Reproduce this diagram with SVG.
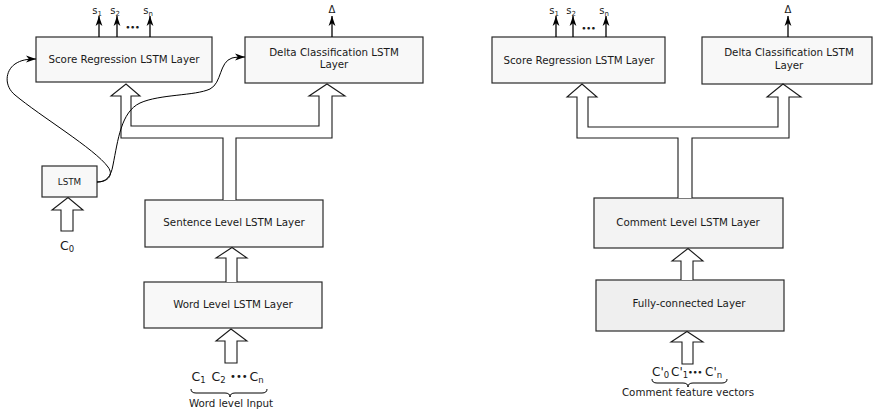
<svg xmlns="http://www.w3.org/2000/svg" width="873" height="411" viewBox="0 0 873 411">
<defs>
<marker id="ah" markerUnits="userSpaceOnUse" markerWidth="10" markerHeight="8" refX="10" refY="4" orient="auto">
<path d="M0,0.6 L10,4 L0,7.4 L2.8,4 z" fill="#000"/>
</marker>
<style>
text{font-family:"DejaVu Sans","Liberation Sans",sans-serif;fill:#1a1a1a}
.box{stroke:#2a2a2a;stroke-width:1.2}
.lb{fill:#f8f8f8}
.rb{fill:#f3f3f3}
.rb2{fill:#efefef}
.t{font-size:10.3px;text-anchor:middle}
.hol{fill:#fff;stroke:#1a1a1a;stroke-width:1.1;stroke-linejoin:miter}
.out{fill:none;stroke:#000;stroke-width:1.3}
.cur{fill:none;stroke:#000;stroke-width:1}
.s{font-size:10px;text-anchor:middle}
.dots{font-size:7.5px;font-weight:bold}
.big{font-size:12.5px}
.cp{font-size:12px}
</style>
</defs>

<g id="left-score">
<rect class="box lb" x="36" y="37" width="176" height="45"/>
<text class="t" x="124" y="63">Score Regression LSTM Layer</text>
</g>
<g id="left-delta">
<rect class="box lb" x="245" y="37" width="178" height="46"/>
<text class="t" x="334" y="55.5">Delta Classification LSTM</text>
<text class="t" x="334" y="68">Layer</text>
</g>
<g id="left-lstm">
<rect class="box lb" x="42" y="166" width="55" height="31"/>
<text x="69.5" y="185" style="font-size:8.8px;text-anchor:middle">LSTM</text>
</g>
<g id="left-sentence">
<rect class="box lb" x="145" y="200" width="178" height="47"/>
<text class="t" x="234" y="225.5">Sentence Level LSTM Layer</text>
</g>
<g id="left-word">
<rect class="box lb" x="144" y="282" width="178" height="46"/>
<text class="t" x="233" y="308">Word Level LSTM Layer</text>
</g>

<g id="right-score">
<rect class="box lb" x="492" y="37" width="173" height="46"/>
<text class="t" x="579" y="64">Score Regression LSTM Layer</text>
</g>
<g id="right-delta">
<rect class="box lb" x="702" y="37" width="170" height="47"/>
<text class="t" x="789" y="56">Delta Classification LSTM</text>
<text class="t" x="789" y="68.5">Layer</text>
</g>
<g id="right-comment">
<rect class="box rb" x="594" y="198" width="189" height="50"/>
<text class="t" x="688" y="226">Comment Level LSTM Layer</text>
</g>
<g id="right-fc">
<rect class="box rb2" x="596" y="280" width="188" height="51"/>
<text class="t" x="689" y="307">Fully-connected Layer</text>
</g>

<g id="connectors">
<path class="hol" d="M223,200 L223,138 L121,138 L121,96 L111,96 L126,84 L140,96 L131,96 L131,126 L319,126 L319,96 L309,96 L327,84 L345,96 L332,96 L332,138 L236,138 L236,200"/>
<path class="hol" d="M226,282 L226,258 L216,258 L232,247.5 L247,258 L237,258 L237,282"/>
<path class="hol" d="M225,363 L225,341 L216,341 L231,329 L247,341 L237,341 L237,363 Z"/>
<path class="hol" d="M61,231 L61,210 L52,210 L68,197.5 L83,210 L73,210 L73,231 Z"/>
<path class="hol" d="M678,198 L678,138 L577,138 L577,97 L567,97 L582,84 L597,97 L588,97 L588,127 L778,127 L778,97 L767,97 L783,84 L801,97 L789,97 L789,138 L692,138 L692,198"/>
<path class="hol" d="M681,280 L681,261 L672,261 L688,248.5 L703,261 L693,261 L693,280"/>
<path class="hol" d="M682,364 L682,342 L671,342 L687,331.5 L703,342 L693,342 L693,364 Z"/>
<line class="out" x1="99" y1="37" x2="99" y2="16" marker-end="url(#ah)"/>
<line class="out" x1="117" y1="37" x2="117" y2="16" marker-end="url(#ah)"/>
<line class="out" x1="150" y1="37" x2="150" y2="16" marker-end="url(#ah)"/>
<line class="out" x1="332" y1="37" x2="332" y2="16" marker-end="url(#ah)"/>
<line class="out" x1="556" y1="37" x2="556" y2="16" marker-end="url(#ah)"/>
<line class="out" x1="573" y1="37" x2="573" y2="16" marker-end="url(#ah)"/>
<line class="out" x1="606" y1="37" x2="606" y2="16" marker-end="url(#ah)"/>
<line class="out" x1="788" y1="37" x2="788" y2="16" marker-end="url(#ah)"/>
<path class="cur" d="M97,182 C108,182 114,175 108,167 C95,149 40,116 15,95 C4,86 5,71 15,64 C21,60 27,59 36,59" marker-end="url(#ah)"/>
<path class="cur" d="M97,182 C106,182 111,177 113,165 C118,140 121,112 140,103 C160,94 195,96 210,89 C222,83 219,62 232,58 C236,57 240,57 245,57" marker-end="url(#ah)"/>
<path class="cur" d="M191,389 Q191,393 196,393 L225,393 Q230,393 230,397 Q230,393 235,393 L262,393 Q267,393 267,389"/>
<path class="cur" d="M652,379 Q652,383 657,383 L683,383 Q688,383 688,387 Q688,383 693,383 L722,383 Q727,383 727,379"/>
</g>

<g id="labels">
<text class="s" x="97" y="14">s<tspan font-size="7" dy="1.5">1</tspan></text>
<text class="s" x="115" y="14">s<tspan font-size="7" dy="1.5">2</tspan></text>
<text class="s" x="148" y="14">s<tspan font-size="7" dy="1.5">n</tspan></text>
<text class="dots" x="125.5" y="30">•••</text>
<text class="s" x="332" y="13">Δ</text>
<text class="s" x="554" y="14">s<tspan font-size="7" dy="1.5">1</tspan></text>
<text class="s" x="571" y="14">s<tspan font-size="7" dy="1.5">2</tspan></text>
<text class="s" x="604" y="14">s<tspan font-size="7" dy="1.5">n</tspan></text>
<text class="dots" x="581.5" y="31">•••</text>
<text class="s" x="788" y="13">Δ</text>

<text class="big" x="60" y="250">C<tspan font-size="8.5" dy="1.5">0</tspan></text>
<text class="big" x="191.5" y="381">C<tspan font-size="8.5" dy="1.5">1</tspan></text>
<text class="big" x="211.5" y="381">C<tspan font-size="8.5" dy="1.5">2</tspan></text>
<text x="230" y="380" style="font-size:10px">•••</text>
<text class="big" x="249.5" y="381">C<tspan font-size="8.5" dy="1.5">n</tspan></text>
<text class="t" x="231" y="407">Word level Input</text>

<text class="cp" x="652" y="376">C'<tspan font-size="8.5" dy="1.5">0</tspan></text>
<text class="cp" x="671" y="376">C'<tspan font-size="8.5" dy="1.5">1</tspan></text>
<text class="dots" x="688" y="375">•••</text>
<text class="cp" x="705" y="376">C'<tspan font-size="8.5" dy="1.5">n</tspan></text>
<text class="t" x="688" y="396">Comment feature vectors</text>
</g>
</svg>
